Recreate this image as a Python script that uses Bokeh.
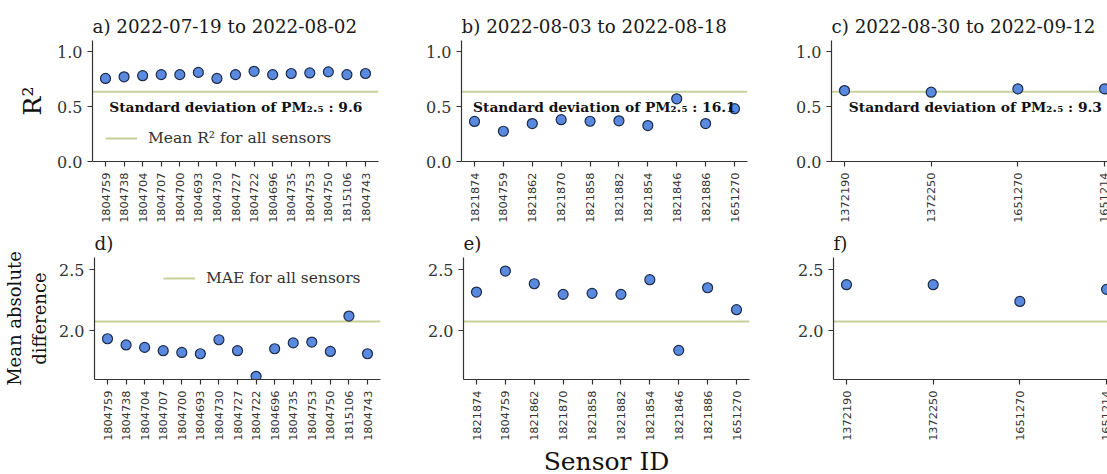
import math
from bokeh.plotting import figure
from bokeh.models import (Label, Legend, LegendItem, FixedTicker, Range1d,
                          PrintfTickFormatter)
from bokeh.layouts import column, row
from bokeh.embed import file_html
from bokeh.resources import INLINE

# ---------------- data ----------------
titles_top = ["a) 2022-07-19 to 2022-08-02",
              "b) 2022-08-03 to 2022-08-18",
              "c) 2022-08-30 to 2022-09-12"]
titles_bottom = ["d)", "e)", "f)"]

sensors_a = ["1804759", "1804738", "1804704", "1804707", "1804700", "1804693",
             "1804730", "1804727", "1804722", "1804696", "1804735", "1804753",
             "1804750", "1815106", "1804743"]
r2_a = [0.755, 0.77, 0.78, 0.79, 0.79, 0.81, 0.755, 0.79, 0.82, 0.79, 0.80,
        0.805, 0.815, 0.79, 0.80]
mae_a = [1.934, 1.883, 1.863, 1.836, 1.822, 1.811, 1.926, 1.836, 1.626, 1.852,
         1.900, 1.907, 1.830, 2.120, 1.811]

sensors_b = ["1821874", "1804759", "1821862", "1821870", "1821858", "1821882",
             "1821854", "1821846", "1821886", "1651270"]
r2_b = [0.364, 0.275, 0.345, 0.38, 0.366, 0.37, 0.327, 0.57, 0.345, 0.48]
mae_b = [2.317, 2.489, 2.385, 2.298, 2.306, 2.298, 2.418, 1.839, 2.352, 2.172]

sensors_c = ["1372190", "1372250", "1651270", "1651214"]
r2_c = [0.645, 0.63, 0.66, 0.66]
mae_c = [2.377, 2.377, 2.240, 2.339]

std_pm = ["9.6", "16.1", "9.3"]
mean_r2 = 0.635
mean_mae = 2.075

r2_ticks = [0.0, 0.5, 1.0]
mae_ticks = [2.0, 2.5]

# ---------------- style ----------------
SERIF = "DejaVu Serif"
SANS = "DejaVu Sans"
LINE_C = "#c6d19b"
FILL_C = "#5a8ae0"
EDGE_C = "#1c2a48"
AX_C = "#333333"

sensors_all = [sensors_a, sensors_b, sensors_c]
r2_all = [r2_a, r2_b, r2_c]
mae_all = [mae_a, mae_b, mae_c]

# layout geometry per column: (left border, frame width, right border, x_start, x_end)
cols = [
    (92, 286, 13, -0.7, 14.7),
    (70, 286, 14, -0.45, 9.45),
    (70, 276, 0, -0.15, 3.034),
]
std_x = [0.2, -0.05, 0.05]


def style_fig(p, sensors, yticks):
    p.outline_line_color = None
    p.xgrid.visible = False
    p.ygrid.visible = False
    p.background_fill_color = "white"
    p.border_fill_color = "white"
    for ax in (p.xaxis[0], p.yaxis[0]):
        ax.axis_line_color = AX_C
        ax.axis_line_width = 1.2
        ax.major_tick_line_color = AX_C
        ax.major_tick_line_width = 1.2
        ax.major_tick_out = 5
        ax.major_tick_in = 0
        ax.minor_tick_line_color = None
    xa = p.xaxis[0]
    xa.ticker = FixedTicker(ticks=list(range(len(sensors))))
    xa.major_label_overrides = {i: s for i, s in enumerate(sensors)}
    xa.major_label_orientation = math.pi / 2
    xa.major_label_text_font = SANS
    xa.major_label_text_font_size = "11.3px"
    xa.major_label_text_color = "#333333"
    xa.major_label_standoff = 6
    ya = p.yaxis[0]
    ya.ticker = FixedTicker(ticks=yticks)
    ya.formatter = PrintfTickFormatter(format="%.1f")
    ya.major_label_text_font = SERIF
    ya.major_label_text_font_size = "16px"
    ya.major_label_text_color = "#333333"
    ya.major_label_standoff = 5


def style_title(p, standoff):
    p.title.text_font = SERIF
    p.title.text_font_size = "18.3px"
    p.title.text_font_style = "normal"
    p.title.text_color = "#1a1a1a"
    p.title.align = "left"
    p.title.offset = 0
    p.title.standoff = standoff


def make_legend(p, renderer, label, loc):
    leg = Legend(items=[LegendItem(label=label, renderers=[renderer])], location=loc)
    leg.border_line_color = None
    leg.background_fill_alpha = 0
    leg.label_text_font = SERIF
    leg.label_text_font_size = "15.5px"
    leg.label_text_color = "#333333"
    leg.glyph_width = 32
    leg.glyph_height = 20
    leg.label_standoff = 11
    leg.padding = 0
    leg.margin = 0
    leg.spacing = 0
    p.add_layout(leg)


top_figs = []
bottom_figs = []
for i in range(3):
    lb, fw, rb, xs, xe = cols[i]
    n = len(sensors_all[i])
    xs_idx = list(range(n))

    # ---- top (R^2) ----
    p = figure(frame_width=fw, frame_height=121, output_backend="svg",
               toolbar_location=None, title=titles_top[i],
               x_range=Range1d(xs, xe), y_range=Range1d(0.0, 1.1),
               min_border_left=lb, min_border_right=rb,
               min_border_top=40, min_border_bottom=64)
    style_fig(p, sensors_all[i], r2_ticks)
    style_title(p, 8)
    mline = p.line(x=[xs, xe], y=[mean_r2, mean_r2], line_color=LINE_C, line_width=2)
    p.scatter(xs_idx, r2_all[i], size=10, fill_color=FILL_C, line_color=EDGE_C,
              line_width=1.2)
    p.add_layout(Label(x=std_x[i], y=0.5, text="Standard deviation of PM₂.₅ : " + std_pm[i],
                       text_font=SERIF, text_font_size="13.8px", text_font_style="bold",
                       text_baseline="middle", text_color="#111111"))
    if i == 0:
        p.yaxis[0].axis_label = "R²"
        p.yaxis[0].axis_label_text_font = SERIF
        p.yaxis[0].axis_label_text_font_size = "25px"
        p.yaxis[0].axis_label_text_font_style = "normal"
        p.yaxis[0].axis_label_text_color = "#111111"
        p.yaxis[0].axis_label_standoff = 7
        make_legend(p, mline, "Mean R² for all sensors", (13, 13))
    top_figs.append(p)

    # ---- bottom (MAE) ----
    q = figure(frame_width=fw, frame_height=122, output_backend="svg",
               toolbar_location=None, title=titles_bottom[i],
               x_range=Range1d(xs, xe), y_range=Range1d(1.6, 2.6),
               min_border_left=lb, min_border_right=rb,
               min_border_top=32, min_border_bottom=95)
    style_fig(q, sensors_all[i], mae_ticks)
    style_title(q, 7)
    mline2 = q.line(x=[xs, xe], y=[mean_mae, mean_mae], line_color=LINE_C, line_width=2)
    q.scatter(xs_idx, mae_all[i], size=10, fill_color=FILL_C, line_color=EDGE_C,
              line_width=1.2)
    if i == 0:
        q.yaxis[0].axis_label = "Mean absolute\ndifference"
        q.yaxis[0].axis_label_text_font = SERIF
        q.yaxis[0].axis_label_text_font_size = "18px"
        q.yaxis[0].axis_label_text_font_style = "normal"
        q.yaxis[0].axis_label_text_color = "#111111"
        q.yaxis[0].axis_label_text_align = "center"
        q.yaxis[0].axis_label_standoff = 6
        make_legend(q, mline2, "MAE for all sensors", (69, 91))
    if i == 1:
        q.xaxis[0].axis_label = "Sensor ID"
        q.xaxis[0].axis_label_text_font = SERIF
        q.xaxis[0].axis_label_text_font_size = "25px"
        q.xaxis[0].axis_label_text_font_style = "normal"
        q.xaxis[0].axis_label_text_color = "#111111"
        q.xaxis[0].axis_label_standoff = 3
    bottom_figs.append(q)

layout = column(row(*top_figs, spacing=0), row(*bottom_figs, spacing=0), spacing=0)

open("out.html", "w").write(file_html(layout, INLINE))
